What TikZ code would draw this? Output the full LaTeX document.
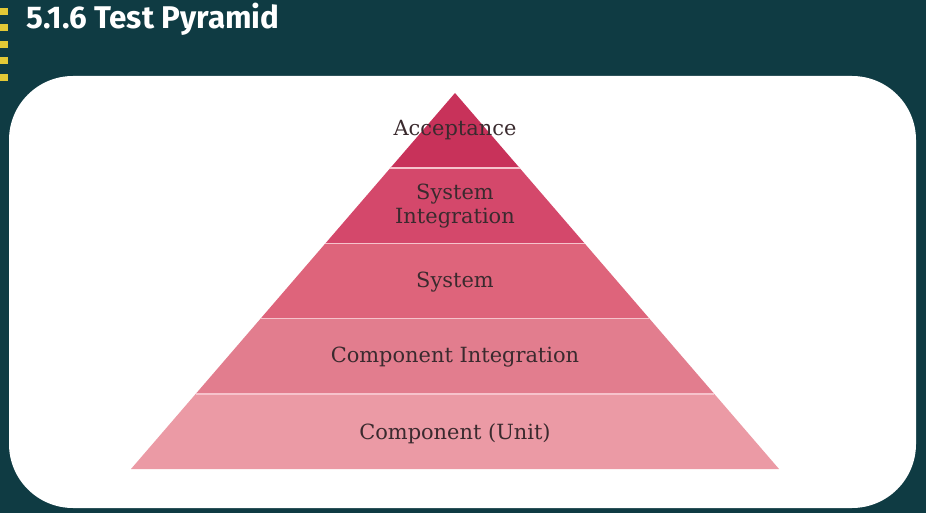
\documentclass[tikz,border=0pt]{standalone}
\usepackage{fontspec}
\setmainfont{DejaVu Serif}
\newfontfamily\titlefont{Fira Sans}
\definecolor{bgteal}{HTML}{0F3B43}
\definecolor{dotyellow}{HTML}{E3C936}
\definecolor{layA}{HTML}{C8325A}
\definecolor{layB}{HTML}{D4486B}
\definecolor{layC}{HTML}{DE647B}
\definecolor{layD}{HTML}{E27D8E}
\definecolor{layE}{HTML}{EB9AA5}
\definecolor{sepline}{HTML}{F6C3CC}
\definecolor{labeltext}{HTML}{3A2A2E}
\tikzset{
  layer/.style={draw=sepline, line width=1.6bp, line join=miter},
  lbl/.style={text=labeltext, font=\fontsize{21}{24}\selectfont, align=center, inner sep=0pt},
  ydot/.style={fill=dotyellow, draw=none}
}
\begin{document}
\begin{tikzpicture}[x=1bp,y=-1bp]
\useasboundingbox (0,0) rectangle (926,513);
\fill[bgteal] (0,0) rectangle (926,513);
% yellow dots
\foreach \yy in {11.5,28,44.5,61,78} {
  \fill[ydot] (0,\yy-3.5) rectangle (8,\yy+3.5);
}
% title
\node[anchor=base west, inner sep=0pt, text=white, font=\titlefont\bfseries\fontsize{31.5}{35}\selectfont] (title) at (26,29) {5.1.6 Test Pyramid};
% white panel
\fill[white, rounded corners=64bp] (9,76) rectangle (916,508);
% pyramid layers
\fill[layE] (195.8,393.8) -- (714.2,393.8) -- (779,469) -- (131,469) -- cycle;
\fill[layD] (260.6,318.6) -- (649.4,318.6) -- (714.2,393.8) -- (195.8,393.8) -- cycle;
\fill[layC] (325.4,243.4) -- (584.6,243.4) -- (649.4,318.6) -- (260.6,318.6) -- cycle;
\fill[layB] (390.2,168.2) -- (519.8,168.2) -- (584.6,243.4) -- (325.4,243.4) -- cycle;
\fill[layA] (455,93) -- (519.8,168.2) -- (390.2,168.2) -- cycle;
% separators
\foreach \ya/\xa/\xb in {168.2/390.2/519.8, 243.4/325.4/584.6, 318.6/260.6/649.4, 393.8/195.8/714.2} {
  \draw[layer] (\xa,\ya) -- (\xb,\ya);
}
% labels
\node[lbl] (acc) at (455,130) {Acceptance};
\node[lbl] (sysint) at (455,206) {System\\Integration};
\node[lbl] (sys) at (455,282) {System};
\node[lbl] (compint) at (455,357) {Component Integration};
\node[lbl] (comp) at (455,434) {Component (Unit)};
\end{tikzpicture}
\end{document}
